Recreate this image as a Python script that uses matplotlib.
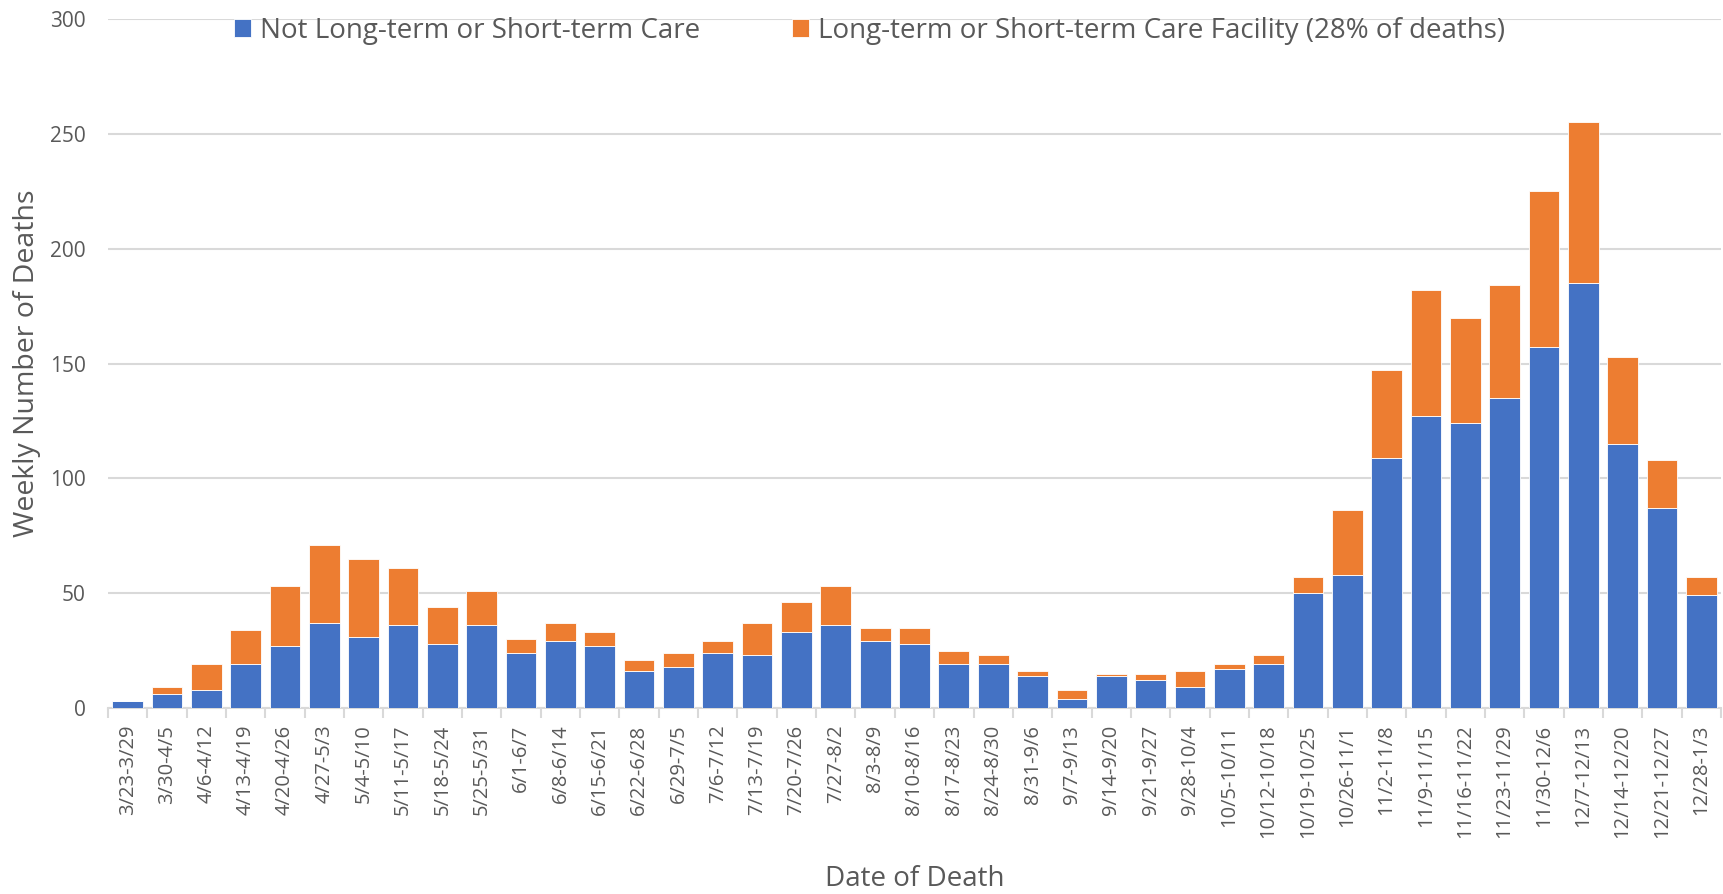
import numpy as np
import matplotlib.pyplot as plt

weeks = ['3/23-3/29', '3/30-4/5', '4/6-4/12', '4/13-4/19', '4/20-4/26', '4/27-5/3',
         '5/4-5/10', '5/11-5/17', '5/18-5/24', '5/25-5/31', '6/1-6/7', '6/8-6/14',
         '6/15-6/21', '6/22-6/28', '6/29-7/5', '7/6-7/12', '7/13-7/19', '7/20-7/26',
         '7/27-8/2', '8/3-8/9', '8/10-8/16', '8/17-8/23', '8/24-8/30', '8/31-9/6',
         '9/7-9/13', '9/14-9/20', '9/21-9/27', '9/28-10/4', '10/5-10/11', '10/12-10/18',
         '10/19-10/25', '10/26-11/1', '11/2-11/8', '11/9-11/15', '11/16-11/22',
         '11/23-11/29', '11/30-12/6', '12/7-12/13', '12/14-12/20', '12/21-12/27', '12/28-1/3']

not_care = [3, 6, 8, 19, 27, 37, 31, 36, 28, 36, 24, 29, 27, 16, 18, 24, 23, 33,
            36, 29, 28, 19, 19, 14, 4, 14, 12, 9, 17, 19, 50, 58, 109, 127, 124,
            135, 157, 185, 115, 87, 49]
care_facility = [0, 3, 11, 15, 26, 34, 34, 25, 16, 15, 6, 8, 6, 5, 6, 5, 14, 13,
                 17, 6, 7, 6, 4, 2, 4, 1, 3, 7, 2, 4, 7, 28, 38, 55, 46,
                 49, 68, 70, 38, 21, 8]

series_labels = ['Not Long-term or Short-term Care',
                 'Long-term or Short-term Care Facility (28% of deaths)']
yticks = [0, 50, 100, 150, 200, 250, 300]

blue = '#4472C4'
orange = '#ED7D31'
text_color = '#595959'
grid_color = '#D9D9D9'

plt.rcParams['font.family'] = ['Open Sans', 'DejaVu Sans']

fig = plt.figure(figsize=(17.24, 8.94), dpi=100)
ax = fig.add_axes([108 / 1724, 1 - 708 / 894, (1721 - 108) / 1724, (708 - 19) / 894])

x = np.arange(len(weeks))
ax.bar(x, not_care, width=0.78, color=blue, edgecolor='white', linewidth=0.6,
       label=series_labels[0], zorder=3)
ax.bar(x, care_facility, width=0.78, bottom=not_care, color=orange, edgecolor='white',
       linewidth=0.6, label=series_labels[1], zorder=3)

ax.set_xlim(-0.5, len(weeks) - 0.5)
ax.set_ylim(0, 300)
ax.set_yticks(yticks)
ax.yaxis.grid(True, color=grid_color, linewidth=1.5, zorder=0)
ax.tick_params(axis='y', length=0, labelsize=15, labelcolor=text_color, pad=16)

ax.set_xticks(x)
ax.set_xticklabels(weeks, rotation=90)
ax.set_xticks(np.arange(len(weeks) + 1) - 0.5, minor=True)
ax.tick_params(axis='x', which='major', length=0, labelsize=14.5, labelcolor=text_color, pad=12)
ax.tick_params(axis='x', which='minor', length=7, color=grid_color, width=1.5)

for side in ['top', 'right', 'left']:
    ax.spines[side].set_visible(False)
ax.spines['bottom'].set_color(grid_color)
ax.spines['bottom'].set_linewidth(1.5)

ax.set_ylabel('Weekly Number of Deaths', fontsize=20.5, color=text_color)
ax.yaxis.set_label_coords(-0.0414, 0.5)
ax.set_xlabel('Date of Death', fontsize=20, color=text_color)
ax.xaxis.set_label_coords(0.5, -0.228)

ax.legend(loc='center', bbox_to_anchor=(0.472, 0.983), ncol=2, frameon=False,
          fontsize=20, labelcolor=text_color, handlelength=0.61, handleheight=0.61,
          handletextpad=0.32, columnspacing=3.3)

fig.savefig('out.png', dpi=100)
